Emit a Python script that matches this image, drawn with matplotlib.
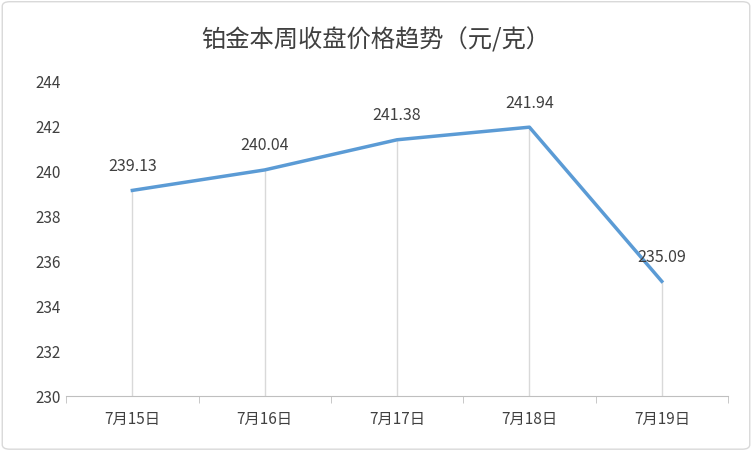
import matplotlib
matplotlib.use("Agg")
import matplotlib.pyplot as plt
from matplotlib.patches import FancyBboxPatch

plt.rcParams['font.family'] = ['Noto Sans CJK SC', 'DejaVu Sans']

categories = ["7月15日", "7月16日", "7月17日", "7月18日", "7月19日"]
values = [239.13, 240.04, 241.38, 241.94, 235.09]
yticks = [230, 232, 234, 236, 238, 240, 242, 244]

fig = plt.figure(figsize=(7.52, 4.52), dpi=100)
fig.patches.append(FancyBboxPatch((0.003, 0.004), 0.994, 0.99, boxstyle="round,pad=0,rounding_size=0.01",
                                  transform=fig.transFigure, fill=False, ec="#d9d9d9", lw=1))
ax = fig.add_axes([0.088, 0.122, 0.88, 0.697])
x = list(range(len(categories)))
ax.vlines(x, 230, values, color="#d9d9d9", lw=1)
ax.plot(x, values, color="#5b9bd5", lw=2.5)
for xi, v in zip(x, values):
    ax.annotate(f"{v:.2f}", (xi, v), xytext=(0, 12), textcoords="offset points",
                ha="center", va="bottom", fontsize=11.5, color="#404040")
ax.set_xlim(-0.5, len(categories) - 0.5)
ax.set_ylim(230, 244)
ax.set_yticks(yticks)
ax.set_xticks(x)
ax.set_xticklabels(categories)
ax.set_xticks([i - 0.5 for i in range(len(categories) + 1)], minor=True)
ax.tick_params(axis='x', which='major', length=0, pad=10, labelsize=11, labelcolor="#404040")
ax.tick_params(axis='x', which='minor', length=5, color="#bfbfbf")
ax.tick_params(axis='y', length=0, labelsize=11, labelcolor="#404040", pad=4)
for s in ["top", "right", "left"]:
    ax.spines[s].set_visible(False)
ax.spines["bottom"].set_color("#bfbfbf")
fig.text(0.5, 0.91, "铂金本周收盘价格趋势（元/克）", ha="center", va="center", fontsize=17.5, color="#404040")
fig.savefig("out.png", dpi=100)
